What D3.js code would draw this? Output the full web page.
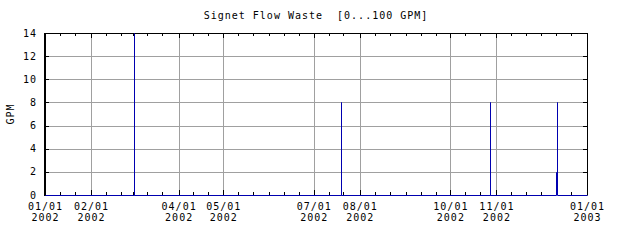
<!DOCTYPE html>
<html>
<head>
<meta charset="utf-8">
<script src="https://cdn.jsdelivr.net/npm/d3@7"></script>
<style>
  html, body { margin: 0; padding: 0; background: #fff; }
  svg text { font-family: "DejaVu Sans Mono", monospace; font-size: 10px; letter-spacing: 1px; fill: #000; }
</style>
</head>
<body>
<script>
// readings (step series), GPM
const readTimes = [
  "2002-01-01T00:00", "2002-03-02T00:00", "2002-03-02T00:00",
  "2002-07-19T12:00", "2002-07-19T12:00",
  "2002-10-28T00:00", "2002-10-28T00:00",
  "2002-12-10T20:00", "2002-12-12T00:00", "2002-12-12T00:00",
  "2003-01-01T00:00"
];
const readValues = [0, 14, 0, 8, 0, 8, 0, 2, 8, 0, 0];

const labelDates = ["2002-01-01", "2002-02-01", "2002-04-01", "2002-05-01",
  "2002-07-01", "2002-08-01", "2002-10-01", "2002-11-01", "2003-01-01"];
const yTicks = [0, 2, 4, 6, 8, 10, 12, 14];
const minorDays = [1, 11, 21];

const title = "Signet Flow Waste  [0...100 GPM]";
const yTitle = "GPM";

const width = 640, height = 240;
const margin = { top: 33, bottom: 45, left: 45, right: 53 };

const parse = d3.timeParse("%Y-%m-%dT%H:%M");
const parseDay = d3.timeParse("%Y-%m-%d");
const data = readTimes.map((t, i) => ({ t: parse(t), v: readValues[i] }));

const svg = d3.select("body").append("svg")
  .attr("width", width).attr("height", height);

const x = d3.scaleTime()
  .domain([parseDay("2002-01-01"), parseDay("2003-01-01")])
  .range([margin.left, width - margin.right]);
const y = d3.scaleLinear()
  .domain([0, 14])
  .range([height - margin.bottom, margin.top]);

const px = v => Math.round(v) + 0.5;
const x0 = margin.left, x1 = width - margin.right;
const y0 = height - margin.bottom, y1 = margin.top;

// grid
svg.append("g").selectAll("line")
  .data(yTicks.slice(1))
  .join("line")
  .attr("x1", x0).attr("x2", x1)
  .attr("y1", d => px(y(d))).attr("y2", d => px(y(d)))
  .attr("stroke", "#a0a0a0");
svg.append("g").selectAll("line")
  .data(labelDates.slice(1, -1))
  .join("line")
  .attr("x1", d => px(x(parseDay(d)))).attr("x2", d => px(x(parseDay(d))))
  .attr("y1", y1).attr("y2", y0)
  .attr("stroke", "#a0a0a0");

// minor ticks (1st, 11th, 21st of each month)
const minor = [];
d3.timeMonth.range(parseDay("2002-01-01"), parseDay("2003-01-01")).forEach(m => {
  minorDays.forEach(dd => minor.push(new Date(m.getFullYear(), m.getMonth(), dd)));
});
const ticksG = svg.append("g").attr("stroke", "#000");
ticksG.selectAll(".mb").data(minor).join("line")
  .attr("x1", d => px(x(d))).attr("x2", d => px(x(d)))
  .attr("y1", y0).attr("y2", y0 - 3);
ticksG.selectAll(".mt").data(minor).join("line")
  .attr("x1", d => px(x(d))).attr("x2", d => px(x(d)))
  .attr("y1", y1).attr("y2", y1 + 3);
ticksG.selectAll(".Mb").data(labelDates).join("line")
  .attr("x1", d => px(x(parseDay(d)))).attr("x2", d => px(x(parseDay(d))))
  .attr("y1", y0).attr("y2", y0 - 5);
ticksG.selectAll(".Mt").data(labelDates).join("line")
  .attr("x1", d => px(x(parseDay(d)))).attr("x2", d => px(x(parseDay(d))))
  .attr("y1", y1).attr("y2", y1 + 5);
ticksG.selectAll(".yl").data(yTicks).join("line")
  .attr("x1", x0).attr("x2", x0 + 4)
  .attr("y1", d => px(y(d))).attr("y2", d => px(y(d)));
ticksG.selectAll(".yr").data(yTicks).join("line")
  .attr("x1", x1).attr("x2", x1 - 4)
  .attr("y1", d => px(y(d))).attr("y2", d => px(y(d)));

// frame
svg.append("path")
  .attr("d", `M${px(x0)},${px(y0)}V${px(y1)}H${px(x1)}V${px(y0)}`)
  .attr("fill", "none").attr("stroke", "#000");
svg.append("line")
  .attr("x1", x0).attr("x2", x0).attr("y1", y1).attr("y2", y0 + 1)
  .attr("stroke", "#000").attr("stroke-width", 2);

// data
const line = d3.line()
  .x(d => px(x(d.t)))
  .y(d => px(y(d.v)))
  .curve(d3.curveStepAfter);
svg.append("path")
  .datum(data)
  .attr("d", line)
  .attr("fill", "none")
  .attr("stroke", "#0000b0")
  .attr("stroke-width", 1);

// labels
svg.append("g").selectAll("text")
  .data(yTicks)
  .join("text")
  .attr("x", 37)
  .attr("y", d => y(d) + 3.5)
  .attr("text-anchor", "end")
  .text(d => d);

const xl = svg.append("g").selectAll("text")
  .data(labelDates)
  .join("text")
  .attr("text-anchor", "middle")
  .attr("x", d => x(parseDay(d)) + 0.5);
xl.append("tspan")
  .attr("x", d => x(parseDay(d)) + 0.5)
  .attr("y", 210)
  .text(d => d3.timeFormat("%m/%d")(parseDay(d)));
xl.append("tspan")
  .attr("x", d => x(parseDay(d)) + 0.5)
  .attr("y", 221)
  .text(d => d3.timeFormat("%Y")(parseDay(d)));

svg.append("text")
  .attr("x", (x0 + x1) / 2)
  .attr("y", 19)
  .attr("text-anchor", "middle")
  .style("white-space", "pre")
  .attr("xml:space", "preserve")
  .text(title);

svg.append("text")
  .attr("transform", `translate(14, ${(y0 + y1) / 2}) rotate(-90)`)
  .attr("text-anchor", "middle")
  .text(yTitle);
</script>
</body>
</html>
